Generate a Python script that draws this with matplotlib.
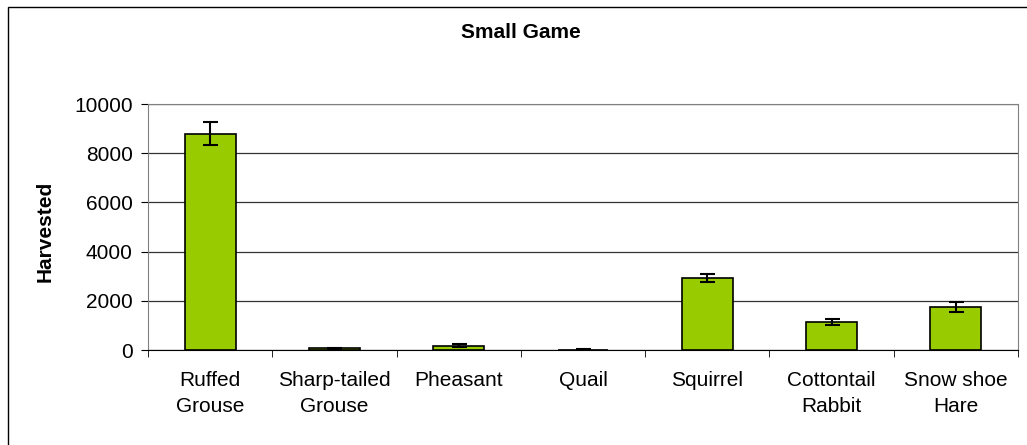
import matplotlib.pyplot as plt
from matplotlib.patches import Rectangle

plt.rcParams['font.family'] = ['Liberation Sans', 'DejaVu Sans']

# data
species = ['Ruffed\nGrouse', 'Sharp-tailed\nGrouse', 'Pheasant', 'Quail',
           'Squirrel', 'Cottontail\nRabbit', 'Snow shoe\nHare']
harvested = [8800, 80, 175, 20, 2920, 1130, 1750]
errors = [470, 20, 60, 15, 170, 130, 200]

fig = plt.figure(figsize=(10.27, 4.45), dpi=100)
W, H = 1027, 445

# outer chart border (runs off the right/bottom edge)
fig.patches.append(Rectangle((8 / W, -0.1), 1.2, 1 - 7 / H + 0.1,
                             transform=fig.transFigure, fill=False,
                             edgecolor='black', linewidth=1))

ax = fig.add_axes([148 / W, 1 - 350 / H, (1018 - 148) / W, (350 - 104) / H])

x = range(len(species))
ax.bar(x, harvested, width=0.41, color='#99cc00', edgecolor='black',
       linewidth=1.2, zorder=3)
ax.errorbar(x, harvested, yerr=errors, fmt='none', ecolor='black',
            elinewidth=1.5, capsize=5.4, capthick=1.5, zorder=4)

ax.set_xlim(-0.5, len(species) - 0.5)
ax.set_ylim(0, 10000)
ax.set_yticks([0, 2000, 4000, 6000, 8000, 10000])
ax.yaxis.grid(True, color='#333333', linewidth=0.9, zorder=0)

# category ticks sit between the bars
ax.set_xticks([i + 0.5 for i in range(-1, len(species))], minor=True)
ax.set_xticks(list(x))
ax.set_xticklabels(species, fontsize=15, linespacing=1.5)
ax.tick_params(axis='x', which='major', length=0, pad=15)
ax.tick_params(axis='x', which='minor', length=5, direction='out', color='black')
ax.tick_params(axis='y', length=5, direction='out', labelsize=15, pad=6)

for s in ['top', 'right']:
    ax.spines[s].set_color('#808080')
ax.spines['left'].set_color('#808080')
ax.spines['bottom'].set_color('black')

fig.text(45 / W, 1 - 231 / H, 'Harvested', rotation=90, ha='center',
         va='center', fontsize=15, fontweight='bold')
fig.text(521 / W, 1 - 33 / H, 'Small Game', ha='center', va='center',
         fontsize=15, fontweight='bold')

fig.savefig('out.png', dpi=100)
